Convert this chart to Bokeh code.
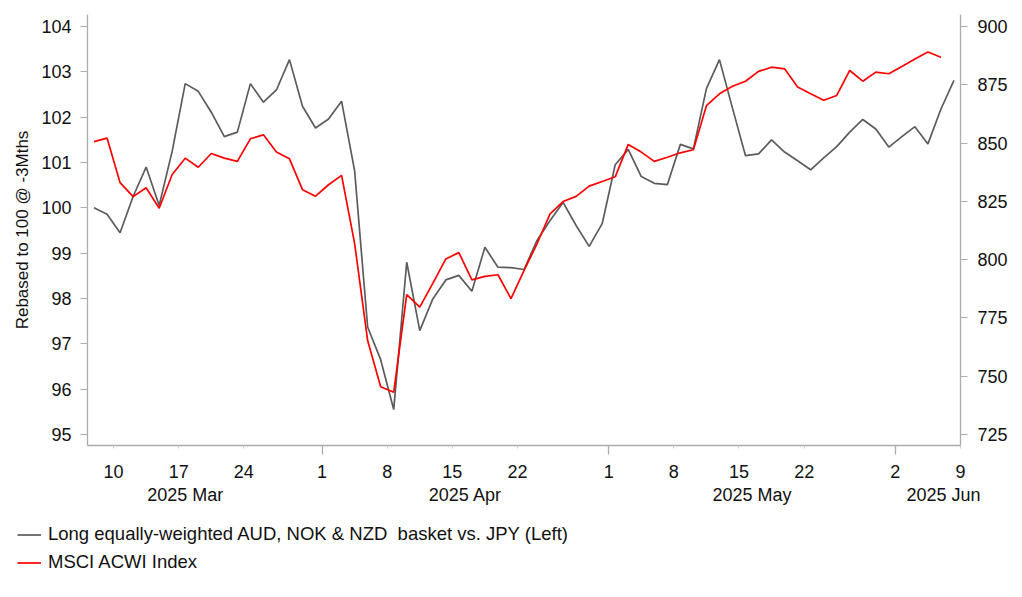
import numpy as np
import pandas as pd
from bokeh.plotting import figure
from bokeh.models import Range1d, LinearAxis, FixedTicker, Legend, LegendItem
from bokeh.layouts import column
from bokeh.embed import file_html
from bokeh.resources import INLINE

# ---------------- data ----------------
dates = pd.bdate_range("2025-03-06", "2025-06-06")

basket = [100.00, 99.86, 99.45, 100.25, 100.90, 100.05, 101.25, 102.74, 102.57, 102.11,
          101.57, 101.67, 102.74, 102.33, 102.60, 103.27, 102.24, 101.76, 101.96, 102.35,
          100.82, 97.37, 96.65, 95.55, 98.80, 97.29, 97.99, 98.41, 98.51, 98.16,
          99.13, 98.69, 98.68, 98.64, 99.28, 99.72, 100.12, 99.61, 99.15, 99.65,
          100.95, 101.29, 100.69, 100.54, 100.51, 101.40, 101.30, 102.63, 103.27, 102.20,
          101.15, 101.19, 101.50, 101.23, 101.04, 100.84, 101.10, 101.35, 101.67, 101.95,
          101.74, 101.34, 101.57, 101.79, 101.41, 102.18, 102.81]

msci = [850.6, 852.1, 833.0, 827.0, 830.8, 822.0, 836.5, 843.5, 839.6, 845.5,
        843.5, 842.1, 851.8, 853.5, 846.1, 843.2, 830.0, 827.2, 832.1, 836.1,
        807.0, 765.3, 745.5, 743.1, 785.0, 779.6, 789.8, 800.3, 803.0, 791.3,
        792.8, 793.5, 783.3, 795.3, 806.8, 819.6, 824.9, 827.1, 831.5, 833.5,
        835.5, 849.4, 846.1, 842.1, 843.9, 845.8, 847.1, 866.0, 871.1, 874.3,
        876.5, 880.7, 882.5, 881.8, 874.0, 871.1, 868.3, 870.4, 881.1, 876.5,
        880.4, 879.7, 882.8, 886.0, 889.0, 886.8]

tick_dates = ["2025-03-10", "2025-03-17", "2025-03-24", "2025-04-01", "2025-04-08",
              "2025-04-15", "2025-04-22", "2025-05-01", "2025-05-08", "2025-05-15",
              "2025-05-22", "2025-06-02", "2025-06-09"]
tick_labels = ["10", "17", "24", "1", "8", "15", "22", "1", "8", "15", "22", "2", "9"]
month_starts = ["2025-04-01", "2025-05-01", "2025-06-02"]
month_labels = ["2025 Mar", "2025 Apr", "2025 May", "2025 Jun"]

label_basket = "Long equally-weighted AUD, NOK & NZD  basket vs. JPY (Left)"
label_msci = "MSCI ACWI Index"

# ---------------- layout helpers ----------------
axis_days = pd.bdate_range("2025-03-06", "2025-06-09")
day_pos = {d.strftime("%Y-%m-%d"): i for i, d in enumerate(axis_days)}
x_basket = np.arange(len(basket)) + 0.5
x_msci = np.arange(len(msci)) + 0.5
ticks = [day_pos[d] for d in tick_dates]
major_ticks = [day_pos[d] for d in month_starts]
month_label_pos = [7.5, 29.0, 51.0, 65.7]

FONT = "Liberation Sans"
TXT = "#111111"
AX = "#ababab"
GRAY = "#5c5c5c"
RED = "#ff0000"

p = figure(width=1010, height=515, output_backend="svg", toolbar_location=None,
           x_range=Range1d(0, len(axis_days) - 1),
           y_range=Range1d(94.757, 104.265),
           min_border_left=87, min_border_right=50, min_border_top=14,
           min_border_bottom=70, x_axis_type=None, y_axis_type=None)
p.extra_y_ranges = {"right": Range1d(720.3, 905.1)}
p.outline_line_color = None
p.grid.visible = False

p.line(x_basket, basket, line_color=GRAY, line_width=1.7)
p.line(x_msci, msci, line_color=RED, line_width=1.7, y_range_name="right")

def style_y(ax, standoff):
    ax.axis_line_color = AX
    ax.axis_line_width = 1.3
    ax.major_tick_line_color = AX
    ax.major_tick_out = 7
    ax.major_tick_in = 0
    ax.minor_tick_line_color = None
    ax.major_label_text_font = FONT
    ax.major_label_text_font_size = "18px"
    ax.major_label_text_color = TXT
    ax.major_label_standoff = standoff

yl = LinearAxis(ticker=FixedTicker(ticks=[95, 96, 97, 98, 99, 100, 101, 102, 103, 104]))
style_y(yl, 9)
yl.axis_label = "Rebased to 100 @ -3Mths"
yl.axis_label_text_font = FONT
yl.axis_label_text_font_size = "17px"
yl.axis_label_text_font_style = "normal"
yl.axis_label_text_color = TXT
yl.axis_label_standoff = 6
p.add_layout(yl, "left")

yr = LinearAxis(y_range_name="right",
                ticker=FixedTicker(ticks=[725, 750, 775, 800, 825, 850, 875, 900]))
style_y(yr, 10)
p.add_layout(yr, "right")

# day labels; short light ticks at every label, longer ticks at month starts
xd = LinearAxis(ticker=FixedTicker(ticks=ticks, minor_ticks=major_ticks))
xd.major_label_overrides = {t: l for t, l in zip(ticks, tick_labels)}
xd.axis_line_color = AX
xd.axis_line_width = 1.3
xd.major_tick_line_color = "#cccccc"
xd.major_tick_out = 3
xd.major_tick_in = 0
xd.minor_tick_line_color = AX
xd.minor_tick_line_width = 1.3
xd.minor_tick_out = 9
xd.minor_tick_in = 0
xd.major_label_text_font = FONT
xd.major_label_text_font_size = "18px"
xd.major_label_text_color = TXT
xd.major_label_standoff = 10
p.add_layout(xd, "below")

xm = LinearAxis(ticker=FixedTicker(ticks=month_label_pos))
xm.major_label_overrides = {t: l for t, l in zip(month_label_pos, month_labels)}
xm.axis_line_color = None
xm.major_tick_line_color = None
xm.minor_tick_line_color = None
xm.major_tick_out = 0
xm.major_tick_in = 0
xm.major_label_text_font = FONT
xm.major_label_text_font_size = "18px"
xm.major_label_text_color = TXT
xm.major_label_standoff = 4
p.add_layout(xm, "below")

# ---------------- legend strip ----------------
lf = figure(width=1010, height=75, output_backend="svg", toolbar_location=None,
            x_range=Range1d(0, 1), y_range=Range1d(0, 1),
            x_axis_type=None, y_axis_type=None, min_border=0,
            min_border_left=0, min_border_right=0, min_border_top=0,
            min_border_bottom=0)
lf.outline_line_color = None
lf.grid.visible = False
for fig in (p, lf):
    try:
        fig.frame_align = False
    except Exception:
        pass
g1 = lf.line(x=[0, 1], y=[-5, -5], line_color=GRAY, line_width=1.7)
g2 = lf.line(x=[0, 1], y=[-5, -5], line_color=RED, line_width=1.7)
legend = Legend(items=[LegendItem(label=label_basket, renderers=[g1]),
                       LegendItem(label=label_msci, renderers=[g2])],
                location=(17, 17), padding=0, margin=0, spacing=6,
                glyph_width=24, glyph_height=21, label_height=21, label_standoff=7,
                label_text_font=FONT, label_text_font_size="18.5px",
                label_text_color=TXT, border_line_color=None,
                background_fill_alpha=0)
lf.add_layout(legend)

layout = column(p, lf, spacing=0)
open("out.html", "w").write(file_html(layout, INLINE))
